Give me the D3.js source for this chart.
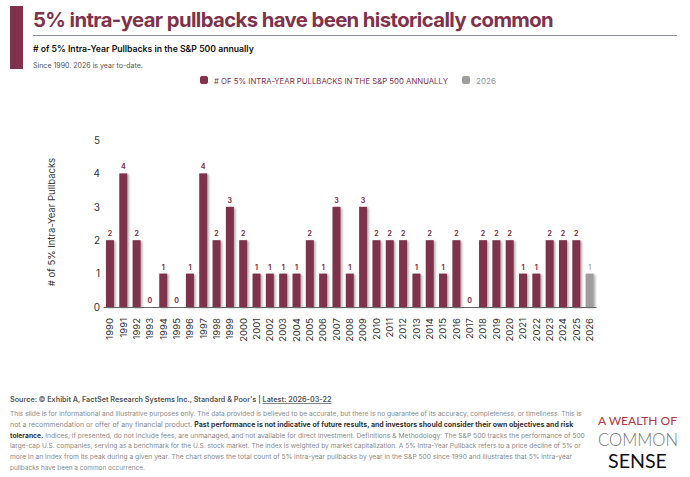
<!DOCTYPE html>
<html><head><meta charset="utf-8">
<script src="https://cdn.jsdelivr.net/npm/d3@7"></script>
<style>
html,body{margin:0;padding:0;background:#fff;}
svg{display:block;font-family:Inter,"Liberation Sans",sans-serif;}
</style></head>
<body>
<svg id="c" width="690" height="477"></svg>
<script>
const years = ["1990","1991","1992","1993","1994","1995","1996","1997","1998","1999","2000","2001","2002","2003","2004","2005","2006","2007","2008","2009","2010","2011","2012","2013","2014","2015","2016","2017","2018","2019","2020","2021","2022","2023","2024","2025","2026"];
const pullbacks = [2,4,2,0,1,0,1,4,2,3,2,1,1,1,1,2,1,3,1,3,2,2,2,1,2,1,2,0,2,2,2,1,1,2,2,2,1];
const ytdYear = "2026";
const yTicks = [0,1,2,3,4,5];
const seriesNames = ["# OF 5% INTRA-YEAR PULLBACKS IN THE S&P 500 ANNUALLY","2026"];
const disclaimer = [
 [{t:"This slide is for informational and illustrative purposes only. The data provided is believed to be accurate, but there is no guarantee of its accuracy, completeness, or timeliness. This is"}],
 [{t:"not a recommendation or offer of any financial product. "},{t:"Past performance is not indicative of future results, and investors should consider their own objectives and risk",b:true}],
 [{t:"tolerance.",b:true},{t:" Indices, if presented, do not include fees, are unmanaged, and not available for direct investment. Definitions & Methodology: The S&P 500 tracks the performance of 500"}],
 [{t:"large-cap U.S. companies, serving as a benchmark for the U.S. stock market. The index is weighted by market capitalization. A 5% Intra-Year Pullback refers to a price decline of 5% or"}],
 [{t:"more in an index from its peak during a given year. The chart shows the total count of 5% intra-year pullbacks by year in the S&P 500 since 1990 and illustrates that 5% intra-year"}],
 [{t:"pullbacks have been a common occurrence."}]
];

const maroon = "#7f324b", grayBar = "#9e9e9e";
const svg = d3.select("#c");

function fit(sel, w){ const n=sel.node(); const cur=parseFloat(sel.attr("font-size")); const l=n.getComputedTextLength(); sel.attr("font-size", (cur*w/l).toFixed(2)); return sel; }

// header
svg.append("rect").attr("x",10).attr("y",6).attr("width",13).attr("height",63).attr("fill",maroon);
fit(svg.append("text").attr("x",33).attr("y",27).attr("font-size",22).attr("font-weight",700).attr("fill",maroon).attr("letter-spacing","-0.6").text("5% intra-year pullbacks have been historically common"),523);
svg.append("line").attr("x1",33).attr("x2",677).attr("y1",35.5).attr("y2",35.5).attr("stroke","#8a8f99").attr("stroke-width",1);
fit(svg.append("text").attr("x",33).attr("y",52).attr("font-size",10).attr("font-weight",600).attr("fill","#111").text("# of 5% Intra-Year Pullbacks in the S&P 500 annually"),221);
fit(svg.append("text").attr("x",33).attr("y",68).attr("font-size",8).attr("fill","#555").text("Since 1990. 2026 is year to-date."),110);

// legend
const lg = svg.append("g");
lg.append("rect").attr("x",200).attr("y",76).attr("width",8).attr("height",8).attr("rx",2).attr("fill",maroon);
fit(lg.append("text").attr("x",214).attr("y",83.5).attr("font-size",8.5).attr("fill",maroon).text(seriesNames[0]),234);
lg.append("rect").attr("x",462).attr("y",76).attr("width",8).attr("height",8).attr("rx",2).attr("fill",grayBar);
fit(lg.append("text").attr("x",476).attr("y",83.5).attr("font-size",8.5).attr("fill","#999").text(seriesNames[1]),20);

// chart
const x = d3.scaleBand().domain(years).range([103.3,596.3]).paddingInner(0.4).paddingOuter(0.2);
const y = d3.scaleLinear().domain([0,5]).range([307,140]);

const defs = svg.append("defs");
const f = defs.append("filter").attr("id","sh").attr("x","-50%").attr("y","-20%").attr("width","200%").attr("height","140%");
f.append("feDropShadow").attr("dx",1.5).attr("dy",1).attr("stdDeviation",0.9).attr("flood-color","#000").attr("flood-opacity",0.35);

const data = years.map((yr,i)=>({yr, v:pullbacks[i], ytd: yr===ytdYear}));

svg.append("g").selectAll("rect").data(data.filter(d=>d.v>0)).join("rect")
 .attr("x",d=>x(d.yr)).attr("width",x.bandwidth())
 .attr("y",d=>y(d.v)).attr("height",d=>y(0)-y(d.v))
 .attr("fill",d=>d.ytd?grayBar:maroon).attr("filter","url(#sh)");

svg.append("g").selectAll("text").data(data).join("text")
 .attr("x",d=>x(d.yr)+x.bandwidth()/2).attr("y",d=>y(d.v)-4)
 .attr("text-anchor","middle").attr("font-size",7)
 .attr("font-weight",d=>d.ytd?400:700).attr("fill",d=>d.ytd?"#888":maroon)
 .text(d=>d.v);

// baseline
svg.append("line").attr("x1",103.5).attr("x2",596.5).attr("y1",y(0)+0.5).attr("y2",y(0)+0.5).attr("stroke","#666").attr("stroke-width",1.2);

// y axis
const ya = svg.append("g").attr("transform","translate(100,0)")
 .call(d3.axisLeft(y).tickValues(yTicks).tickSize(0).tickPadding(0).tickFormat(d3.format("d")));
ya.select(".domain").remove();
ya.selectAll("text").attr("font-size",10).attr("fill","#333").attr("font-family","Inter,'Liberation Sans',sans-serif");

svg.append("text").attr("transform","translate(55,222) rotate(-90)").attr("text-anchor","middle")
 .attr("font-size",9.5).attr("fill","#333").text("# of 5% Intra-Year Pullbacks");

// x axis
const xa = svg.append("g").attr("transform",`translate(0,${y(0)})`)
 .call(d3.axisBottom(x).tickSize(0).tickPadding(0));
xa.select(".domain").remove();
xa.selectAll("text").attr("font-size",9.5).attr("fill","#333").attr("font-family","Inter,'Liberation Sans',sans-serif")
 .attr("text-anchor","end").attr("transform","translate(3.3,11) rotate(-90)").attr("dy",0).attr("x",0).attr("y",0);

// footer
const src = svg.append("text").attr("x",10).attr("y",402).attr("font-size",8).attr("fill","#555");
src.append("tspan").attr("font-weight",600).text("Source: © Exhibit A, FactSet Research Systems Inc., Standard & Poor's | ");
src.append("tspan").attr("font-weight",600).attr("text-decoration","underline").text("Latest: 2026-03-22");
fit(src,322);

const lineW = [573,564,575,572,563,135];
disclaimer.forEach((parts,i)=>{
  const t = svg.append("text").attr("x",10).attr("y",416+i*10.8).attr("font-size",7).attr("fill","#8a8a8a");
  parts.forEach(p=>t.append("tspan").attr("font-weight",p.b?700:400).attr("fill",p.b?"#333":"#8a8a8a").text(p.t));
  fit(t,lineW[i]);
});

// logo
fit(svg.append("text").attr("x",598).attr("y",425).attr("font-size",11).attr("font-family","Lato,sans-serif").attr("fill","#b83240").text("A WEALTH OF"),79);
fit(svg.append("text").attr("x",598).attr("y",445.5).attr("font-size",18).attr("font-weight",300).attr("font-family","Lato,sans-serif").attr("fill","#777").text("COMMON"),80);
fit(svg.append("text").attr("x",608).attr("y",467.5).attr("font-size",18).attr("font-weight",400).attr("font-family","Lato,sans-serif").attr("fill","#111").text("SENSE"),59);
</script>
</body></html>
